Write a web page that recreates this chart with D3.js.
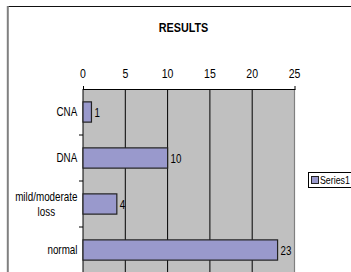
<!DOCTYPE html>
<html>
<head>
<meta charset="utf-8">
<script src="https://cdn.jsdelivr.net/npm/d3@7"></script>
<style>
  body { margin: 0; background: #fff; }
  svg { display: block; font-family: "Liberation Sans", Arial, sans-serif; }
</style>
</head>
<body>
<div id="chart"></div>
<script>
const width = 351;
const height = 272;

// data
const categories = ["CNA", "DNA", "mild/moderate loss", "normal"];
const values = [1, 10, 4, 23];
const tickValues = [0, 5, 10, 15, 20, 25];
const seriesName = "Series1";

const plot = { left: 83, right: 294.5, top: 89, bottom: 273 };
const squeeze = 0.82; // the old Excel text is horizontally condensed

const svg = d3.select("#chart").append("svg")
    .attr("width", width)
    .attr("height", height);

// draws condensed text, anchored at (x, y)
function narrowText(parent, x, y, str, size, anchor, opts = {}) {
    const g = parent.append("g")
        .attr("transform", `translate(${x},${y}) scale(${opts.sx || squeeze},1)`);
    return g.append("text")
        .attr("text-anchor", anchor)
        .attr("font-size", size)
        .attr("font-weight", opts.bold ? "bold" : null)
        .attr("fill", "#000")
        .text(str);
}

// outer chart frame (cut off on right/bottom)
svg.append("line")
    .attr("x1", 7).attr("x2", width).attr("y1", 6.5).attr("y2", 6.5)
    .attr("stroke", "#111").attr("stroke-width", 1);
svg.append("line")
    .attr("x1", 7.8).attr("x2", 7.8).attr("y1", 6).attr("y2", height)
    .attr("stroke", "#808080").attr("stroke-width", 2);

// title
narrowText(svg, 183.5, 32, "RESULTS", 13.5, "middle", { bold: true, sx: 0.8 });

const x = d3.scaleLinear()
    .domain([0, 25])
    .range([plot.left, plot.right]);

const y = d3.scaleBand()
    .domain(categories)
    .range([plot.top, plot.bottom])
    .paddingInner(0.56)
    .paddingOuter(0.28);

// plot area
svg.append("rect")
    .attr("x", plot.left)
    .attr("y", plot.top)
    .attr("width", plot.right - plot.left)
    .attr("height", plot.bottom - plot.top)
    .attr("fill", "#c0c0c0");

svg.append("line")
    .attr("x1", plot.right).attr("x2", plot.right)
    .attr("y1", plot.top).attr("y2", plot.bottom)
    .attr("stroke", "#808080").attr("stroke-width", 1.2);

// vertical gridlines
svg.selectAll(".grid")
    .data(tickValues.filter(d => d > 0 && d < 25))
    .enter().append("line")
    .attr("class", "grid")
    .attr("x1", d => x(d)).attr("x2", d => x(d))
    .attr("y1", plot.top).attr("y2", plot.bottom)
    .attr("stroke", "#000").attr("stroke-width", 1);

// top value axis (labels drawn separately so they can be condensed)
const xAxis = svg.append("g")
    .attr("transform", `translate(0,${plot.top})`)
    .call(d3.axisTop(x).tickValues(tickValues).tickSize(3).tickFormat(""));
xAxis.select(".domain").attr("stroke", "#000");
xAxis.selectAll(".tick line").attr("stroke", "#000").attr("y2", 1);
tickValues.forEach(t => narrowText(svg, x(t), 78, t, 13.5, "middle", { sx: 0.78 }));

// left category axis: line + ticks at band boundaries
svg.append("line")
    .attr("x1", plot.left).attr("x2", plot.left)
    .attr("y1", plot.top).attr("y2", plot.bottom)
    .attr("stroke", "#000");
const boundaries = d3.range(1, categories.length + 1).map(i => plot.top + i * y.step());
svg.selectAll(".ytick")
    .data(boundaries)
    .enter().append("line")
    .attr("class", "ytick")
    .attr("x1", plot.left - 4).attr("x2", plot.left)
    .attr("y1", d => d).attr("y2", d => d)
    .attr("stroke", "#000");

// category labels (wrapped like Excel: block right aligned, lines centred)
categories.forEach(c => {
    const lines = c === "mild/moderate loss" ? ["mild/moderate", "loss"] : [c];
    const cy = y(c) + y.bandwidth() / 2;
    const texts = lines.map((l, i) =>
        narrowText(svg, 0, cy + 4 + (i - (lines.length - 1) / 2) * 15, l, 12, "middle"));
    const w = d3.max(texts, t => t.node().getBBox().width) * squeeze;
    texts.forEach(t => {
        const g = d3.select(t.node().parentNode);
        const ty = g.attr("transform").match(/,([-\d.]+)\)/)[1];
        g.attr("transform", `translate(${77.5 - w / 2},${ty}) scale(${squeeze},1)`);
    });
});

// bars
svg.selectAll(".bar")
    .data(values)
    .enter().append("rect")
    .attr("class", "bar")
    .attr("x", x(0))
    .attr("y", (d, i) => y(categories[i]))
    .attr("width", d => x(d) - x(0))
    .attr("height", y.bandwidth())
    .attr("fill", "#9999cc")
    .attr("stroke", "#222")
    .attr("stroke-width", 1.2);

// value labels
values.forEach((d, i) =>
    narrowText(svg, x(d) + 3, y(categories[i]) + y.bandwidth() / 2 + 4.5, d, 13, "start", { sx: 0.75 }));

// legend
const lg = svg.append("g").attr("transform", "translate(308.5,172.5)");
lg.append("rect")
    .attr("width", 60).attr("height", 15)
    .attr("fill", "#fff").attr("stroke", "#000");
lg.append("rect")
    .attr("x", 3).attr("y", 4).attr("width", 7).attr("height", 7)
    .attr("fill", "#9999cc").attr("stroke", "#222");
narrowText(lg, 11.5, 11.5, seriesName, 11, "start", { sx: 0.8 });
</script>
</body>
</html>
